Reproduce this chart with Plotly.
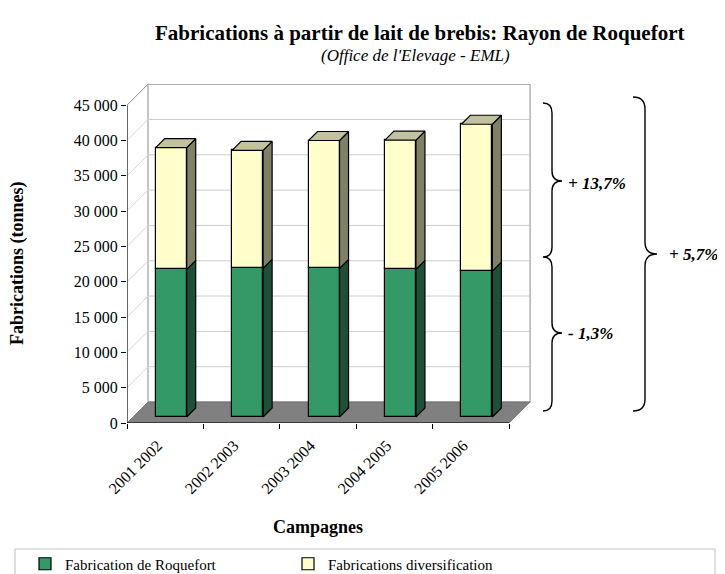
import plotly.graph_objects as go

# données (tonnes)
campagnes = ["2001 2002", "2002 2003", "2003 2004", "2004 2005", "2005 2006"]
roquefort = [20900, 21050, 21050, 20900, 20650]
diversification = [17250, 16700, 18100, 18300, 20800]
y_ticks = [0, 5000, 10000, 15000, 20000, 25000, 30000, 35000, 40000, 45000]
y_tick_labels = [f"{v:,}".replace(",", " ") for v in y_ticks]
evolutions = ["+ 13,7%", "- 1,3%", "+ 5,7%"]

FONT = "Liberation Serif"
OFF = 8                      # marge du <body> dans la page html
W, H = 725, 574              # fenêtre
M_L, M_R, M_T, M_B = 127, 193, 84, 151   # en pixels fenêtre
X_MAX, Y_MAX = 5.3, 48000
PW, PH = W - M_L - M_R, H - M_T - M_B
KX, KY = PW / X_MAX, PH / Y_MAX


def _depth(px: float) -> tuple[float, float]:
    """Décalage de profondeur (pixels) → unités des axes."""
    return px / KX, px / KY


def _paper(px: float, py: float) -> tuple[float, float]:
    return (px - M_L) / PW, (H - M_B - py) / PH


def _brace_path(x0, xv, xt, y1, y2, cusps, r):
    """Accolade '}' en pixels → chemin SVG en coordonnées paper.
    cusps: liste (y, côté) ; 'r' = pointe à droite, 'l' = pointe à gauche."""
    def p(x, y):
        a, b = _paper(x, y)
        return f"{a:.5f},{b:.5f}"

    parts = [f"M {p(x0, y1)} Q {p(xv, y1)} {p(xv, y1 + r)}"]
    for y, side in cusps:
        tip = xt if side == "r" else x0
        parts.append(f"L {p(xv, y - r)} Q {p(xv, y)} {p(tip, y)}")
        parts.append(f"Q {p(xv, y)} {p(xv, y + r)}")
    parts.append(f"L {p(xv, y2 - r)} Q {p(xv, y2)} {p(x0, y2)}")
    return " ".join(parts)


n = len(campagnes)
totals = [r + d for r, d in zip(roquefort, diversification)]
dx, dy = _depth(21)          # profondeur du plancher / des murs
fdx, fdy = _depth(6)         # face avant des barres
sdx, sdy = _depth(9)         # épaisseur des barres
bw = 31 / KX
centers = [i + 0.5 + fdx for i in range(n)]
top_v = y_ticks[-1]

fig = go.Figure()
fig.add_trace(go.Bar(
    x=centers, y=roquefort, base=[fdy] * n, width=bw,
    marker=dict(color="#339966", line=dict(color="black", width=1.2)),
    name="Fabrication de Roquefort", hoverinfo="skip", legend="legend",
))
fig.add_trace(go.Bar(
    x=centers, y=diversification, base=[r + fdy for r in roquefort], width=bw,
    marker=dict(color="#FFFFCC", line=dict(color="black", width=1.2)),
    name="Fabrications diversification", hoverinfo="skip", legend="legend2",
))

# faces latérales et dessus
g_x, g_y, y_x, y_y, t_x, t_y = [], [], [], [], [], []
for c, r, t in zip(centers, roquefort, totals):
    xl, xr = c - bw / 2, c + bw / 2
    g_x += [xr, xr + sdx, xr + sdx, xr, xr, None]
    g_y += [fdy, fdy + sdy, fdy + r + sdy, fdy + r, fdy, None]
    y_x += [xr, xr + sdx, xr + sdx, xr, xr, None]
    y_y += [fdy + r, fdy + r + sdy, fdy + t + sdy, fdy + t, fdy + r, None]
    t_x += [xl, xr, xr + sdx, xl + sdx, xl, None]
    t_y += [fdy + t, fdy + t, fdy + t + sdy, fdy + t + sdy, fdy + t, None]
for xs, ys, col in ((g_x, g_y, "#1f4f37"), (y_x, y_y, "#808066"), (t_x, t_y, "#c2c29e")):
    fig.add_trace(go.Scatter(
        x=xs, y=ys, mode="lines", fill="toself", fillcolor=col,
        line=dict(color="black", width=1.2),
        hoverinfo="skip", showlegend=False,
    ))

shapes = []
# murs
shapes.append(dict(type="path", layer="below",
                   path=f"M 0,0 L {dx},{dy} L {dx},{top_v + dy} L 0,{top_v} Z",
                   fillcolor="white", line=dict(width=0)))
shapes.append(dict(type="rect", layer="below", x0=dx, x1=n + dx, y0=dy, y1=top_v + dy,
                   fillcolor="white", line=dict(color="#8c8c8c", width=1)))
for v in y_ticks[1:-1]:
    shapes.append(dict(type="line", layer="below", x0=dx, x1=n + dx, y0=v + dy, y1=v + dy,
                       line=dict(color="#cccccc", width=1)))
    shapes.append(dict(type="line", layer="below", x0=0, x1=dx, y0=v, y1=v + dy,
                       line=dict(color="#d6d6d6", width=1)))
shapes.append(dict(type="line", layer="below", x0=0, x1=dx, y0=top_v, y1=top_v + dy,
                   line=dict(color="#8c8c8c", width=1)))
# plancher
shapes.append(dict(type="path", layer="below",
                   path=f"M 0,0 L {n},0 L {n + dx},{dy} L {dx},{dy} Z",
                   fillcolor="#808080", line=dict(color="#6a6a6a", width=0.8)))
# axes avant
shapes.append(dict(type="line", x0=0, x1=0, y0=0, y1=top_v, line=dict(color="black", width=1.2)))
shapes.append(dict(type="line", x0=0, x1=n, y0=0, y1=0, line=dict(color="black", width=1.2)))

# accolades
shapes.append(dict(type="path", xref="paper", yref="paper",
                   path=_brace_path(543, 552, 562, 103, 411,
                                    [(181, "r"), (257, "l"), (333, "r")], 10),
                   line=dict(color="black", width=1.4)))
shapes.append(dict(type="path", xref="paper", yref="paper",
                   path=_brace_path(633, 645, 657, 97, 411, [(254, "r")], 12),
                   line=dict(color="black", width=1.4)))
# cadre de la légende
lx0, ly0 = _paper(15, 549)
lx1, ly1 = _paper(715, 600)
shapes.append(dict(type="rect", xref="paper", yref="paper", x0=lx0, x1=lx1, y0=ly0, y1=ly1,
                   line=dict(color="#c8c8c8", width=1.2), fillcolor="rgba(0,0,0,0)"))

annotations = []


def _note(text, px, py, size, xanchor="center", angle=0):
    ax, ay = _paper(px, py)
    annotations.append(dict(text=text, x=ax, y=ay, xref="paper", yref="paper",
                            xanchor=xanchor, yanchor="middle", showarrow=False,
                            textangle=angle, font=dict(family=FONT, size=size, color="black")))


_note("<b>Fabrications à partir de lait de brebis: Rayon de Roquefort</b>", 419, 33, 21)
_note("<i>(Office de l'Elevage - EML)</i>", 415, 56, 17)
_note("<b>Fabrications (tonnes)</b>", 17, 263, 18, angle=-90)
_note("<b>Campagnes</b>", 318, 527, 18)
_note(f"<b><i>{evolutions[0]}</i></b>", 566, 183, 17, xanchor="left")
_note(f"<b><i>{evolutions[1]}</i></b>", 566, 333, 17, xanchor="left")
_note(f"<b><i>{evolutions[2]}</i></b>", 667, 254, 17, xanchor="left")

leg1_x, leg_y = _paper(25, 564)
leg2_x, _ = _paper(288, 564)
legend_style = dict(orientation="h", y=leg_y, xanchor="left", yanchor="middle",
                    bgcolor="rgba(0,0,0,0)", borderwidth=0,
                    font=dict(family=FONT, size=15))
fig.update_layout(
    width=W - OFF, height=H - OFF,
    margin=dict(l=M_L - OFF, r=M_R, t=M_T - OFF, b=M_B, autoexpand=False),
    paper_bgcolor="white", plot_bgcolor="white",
    barmode="overlay", bargap=0,
    font=dict(family=FONT, size=14, color="black"),
    xaxis=dict(range=[0, X_MAX], showgrid=False, zeroline=False, showline=False,
               tickvals=[i + 0.4 for i in range(n)], ticktext=campagnes, tickangle=-45,
               ticks="outside", ticklen=6, tickcolor="rgba(0,0,0,0)",
               tickfont=dict(family=FONT, size=16),
               minor=dict(tickvals=list(range(n + 1)), ticks="outside", ticklen=5,
                          tickcolor="black", tickwidth=1.2)),
    yaxis=dict(range=[0, Y_MAX], showgrid=False, zeroline=False, showline=False,
               tickvals=y_ticks, ticktext=y_tick_labels, ticks="outside", ticklen=5,
               tickcolor="black", tickwidth=1.2, tickfont=dict(family=FONT, size=16)),
    showlegend=True,
    legend=dict(x=leg1_x, **legend_style),
    legend2=dict(x=leg2_x, **legend_style),
    shapes=shapes, annotations=annotations,
)

fig.write_html("out.html")
